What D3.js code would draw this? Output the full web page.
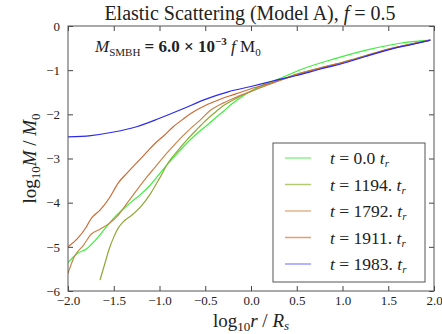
<!DOCTYPE html>
<html>
<head>
<meta charset="utf-8">
<script src="https://cdn.jsdelivr.net/npm/d3@7"></script>
<style>
  body { margin: 0; background: #fff; }
  text { font-family: "Liberation Serif", "DejaVu Serif", serif; fill: #222; }
</style>
</head>
<body>
<div id="chart"></div>
<script>
// log10 r / Rs samples and log10 M / M0 for each snapshot
const labels = ["0.0", "1194.", "1792.", "1911.", "1983."];

const xT0 = [-2, -1.9, -1.8, -1.7, -1.6, -1.5, -1.4, -1.3, -1.2, -1.1, -1.0, -0.9, -0.8, -0.7, -0.6, -0.5, -0.4, -0.3, -0.2, -0.1, 0.0, 0.17, 0.3, 0.54, 0.9, 1.27, 1.63, 1.96];
const yT0 = [-5.36, -5.15, -5.05, -4.85, -4.6, -4.35, -4.15, -3.97, -3.8, -3.6, -3.35, -3.1, -2.87, -2.65, -2.45, -2.28, -2.1, -1.93, -1.75, -1.6, -1.47, -1.3, -1.2, -0.99, -0.75, -0.54, -0.39, -0.32];

const xT1194 = [-1.65, -1.6, -1.55, -1.5, -1.45, -1.4, -1.3, -1.2, -1.1, -1.0, -0.9, -0.8, -0.7, -0.6, -0.5, -0.4, -0.3, -0.2, -0.1, 0.0, 0.2, 0.5, 0.75, 1.0, 1.25, 1.5, 1.75, 1.96];
const yT1194 = [-5.75, -5.4, -5.05, -4.78, -4.57, -4.44, -4.28, -4.08, -3.8, -3.45, -3.08, -2.82, -2.58, -2.36, -2.15, -1.97, -1.8, -1.68, -1.57, -1.48, -1.32, -1.09, -0.95, -0.82, -0.67, -0.52, -0.41, -0.32];

const xT1792 = [-2, -1.93, -1.83, -1.75, -1.65, -1.55, -1.45, -1.35, -1.25, -1.15, -1.05, -0.95, -0.85, -0.75, -0.65, -0.55, -0.45, -0.3, -0.15, 0.0, 0.2, 0.5, 0.75, 1.0, 1.25, 1.5, 1.75, 1.96];
const yT1792 = [-5.6, -5.22, -4.96, -4.72, -4.6, -4.47, -4.28, -4.0, -3.72, -3.45, -3.2, -2.95, -2.72, -2.5, -2.3, -2.12, -1.92, -1.74, -1.6, -1.48, -1.32, -1.1, -0.96, -0.83, -0.68, -0.53, -0.41, -0.32];

const xT1911 = [-2, -1.9, -1.8, -1.75, -1.65, -1.55, -1.45, -1.35, -1.25, -1.15, -1.05, -0.95, -0.85, -0.75, -0.65, -0.5, -0.35, -0.2, 0.0, 0.2, 0.5, 0.75, 1.0, 1.25, 1.5, 1.75, 1.96];
const yT1911 = [-5.0, -4.82, -4.55, -4.37, -4.17, -3.9, -3.55, -3.32, -3.1, -2.88, -2.66, -2.48, -2.28, -2.12, -1.97, -1.8, -1.67, -1.56, -1.42, -1.3, -1.1, -0.96, -0.83, -0.68, -0.53, -0.41, -0.32];

const xT1983 = [-2, -1.75, -1.5, -1.25, -1.0, -0.75, -0.5, -0.25, 0.0, 0.25, 0.5, 0.75, 1.0, 1.25, 1.5, 1.75, 1.96];
const yT1983 = [-2.51, -2.48, -2.4, -2.28, -2.09, -1.88, -1.66, -1.49, -1.37, -1.24, -1.12, -0.98, -0.85, -0.69, -0.54, -0.42, -0.32];

const xTicks = [-2.0, -1.5, -1.0, -0.5, 0.0, 0.5, 1.0, 1.5, 2.0];
const yTicks = [0, -1, -2, -3, -4, -5, -6];

const series = [
  { x: xT0, y: yT0, color: "#3cf03c", legend: "#8df28d" },
  { x: xT1194, y: yT1194, color: "#8fa838", legend: "#b2cb6e" },
  { x: xT1792, y: yT1792, color: "#c8844c", legend: "#e6b38c" },
  { x: xT1911, y: yT1911, color: "#cc6a34", legend: "#ec9a70" },
  { x: xT1983, y: yT1983, color: "#2a2af0", legend: "#9a9aff" }
];

const W = 442, H = 334;
const m = { left: 68, right: 8, top: 26, bottom: 43 };
const iw = W - m.left - m.right, ih = H - m.top - m.bottom;

const svg = d3.select("#chart").append("svg")
  .attr("width", W).attr("height", H);

const x = d3.scaleLinear().domain([-2, 2]).range([0, iw]);
const y = d3.scaleLinear().domain([-6, 0]).range([ih, 0]);

const g = svg.append("g").attr("transform", `translate(${m.left},${m.top})`);

const fmtX = d => d3.format(".1f")(d).replace("-", "\u2212");
const fmtY = d => d3.format("d")(d).replace("-", "\u2212");

// axes with inward ticks on all sides
const styleAxis = sel => {
  sel.attr("font-family", null).attr("font-size", null);
  sel.select(".domain").remove();
  sel.selectAll("line").attr("stroke", "#444");
  sel.selectAll("text")
    .style("font-family", "'Liberation Serif', serif")
    .style("font-size", "13px").attr("fill", "#222");
};

g.append("g").attr("transform", `translate(0,${ih})`)
  .call(d3.axisBottom(x).tickValues(xTicks).tickFormat(fmtX).tickSizeInner(-5).tickSizeOuter(0).tickPadding(5))
  .call(styleAxis);
g.append("g")
  .call(d3.axisTop(x).tickValues(xTicks).tickFormat("").tickSizeInner(-5).tickSizeOuter(0))
  .call(styleAxis);
g.append("g")
  .call(d3.axisLeft(y).tickValues(yTicks).tickFormat(fmtY).tickSizeInner(-5).tickSizeOuter(0).tickPadding(8))
  .call(styleAxis);
g.append("g").attr("transform", `translate(${iw},0)`)
  .call(d3.axisRight(y).tickValues(yTicks).tickFormat("").tickSizeInner(-5).tickSizeOuter(0))
  .call(styleAxis);

g.append("clipPath").attr("id", "clip")
  .append("rect").attr("width", iw).attr("height", ih);

const line = d3.line()
  .x(d => x(d[0]))
  .y(d => y(d[1]))
  .curve(d3.curveMonotoneX);

const lines = g.append("g").attr("clip-path", "url(#clip)");
series.forEach(s => {
  lines.append("path")
    .datum(d3.zip(s.x, s.y))
    .attr("fill", "none")
    .attr("stroke", s.color)
    .attr("stroke-width", 1.2)
    .attr("d", line);
});

g.append("rect")
  .attr("width", iw).attr("height", ih)
  .attr("fill", "none").attr("stroke", "#555").attr("stroke-width", 1);

// title
const title = svg.append("text")
  .attr("x", 250).attr("y", 20)
  .attr("text-anchor", "middle")
  .style("font-size", "20px");
title.append("tspan").text("Elastic Scattering (Model A), ");
title.append("tspan").style("font-style", "italic").text("f");
title.append("tspan").text(" = 0.5");

// mass annotation
const ann = svg.append("text")
  .attr("x", 95).attr("y", 52)
  .style("font-size", "17px");
ann.append("tspan").style("font-style", "italic").text("M");
ann.append("tspan").attr("dy", 4).style("font-size", "11px").text("SMBH");
ann.append("tspan").attr("dy", -4).style("font-weight", "bold").text(" = 6.0 \u00d7 10");
ann.append("tspan").attr("dy", -7).style("font-size", "11px").style("font-weight", "bold").text("\u22123");
ann.append("tspan").attr("dy", 7).style("font-style", "italic").text(" f");
ann.append("tspan").text(" M");
ann.append("tspan").attr("dy", 4).style("font-size", "11px").text("0");

// axis labels
const xl = svg.append("text")
  .attr("x", m.left + iw / 2).attr("y", 327)
  .attr("text-anchor", "middle")
  .style("font-size", "19px");
xl.append("tspan").text("log");
xl.append("tspan").attr("dy", 4).style("font-size", "13px").text("10");
xl.append("tspan").attr("dy", -4).style("font-style", "italic").text("r");
xl.append("tspan").text(" / ");
xl.append("tspan").style("font-style", "italic").text("R");
xl.append("tspan").attr("dy", 3).style("font-size", "13px").style("font-style", "italic").text("s");

const yl = svg.append("text")
  .attr("transform", `translate(36,${m.top + ih / 2}) rotate(-90)`)
  .attr("text-anchor", "middle")
  .style("font-size", "19px");
yl.append("tspan").text("log");
yl.append("tspan").attr("dy", 4).style("font-size", "13px").text("10");
yl.append("tspan").attr("dy", -4).style("font-style", "italic").text("M");
yl.append("tspan").text(" / ");
yl.append("tspan").style("font-style", "italic").text("M");
yl.append("tspan").attr("dy", 4).style("font-size", "13px").text("0");

// legend
const lg = svg.append("g").attr("transform", "translate(273,143)");
lg.append("rect")
  .attr("width", 152).attr("height", 139)
  .attr("fill", "#fff").attr("stroke", "#555").attr("stroke-width", 1);
series.forEach((s, i) => {
  const yy = 15 + i * 26.5;
  lg.append("line")
    .attr("x1", 12).attr("x2", 38).attr("y1", yy).attr("y2", yy)
    .attr("stroke", s.legend).attr("stroke-width", 1.5);
  const t = lg.append("text")
    .attr("x", 57).attr("y", yy + 6)
    .style("font-size", "17.5px");
  t.append("tspan").style("font-style", "italic").text("t");
  t.append("tspan").text(" = " + labels[i] + " ");
  t.append("tspan").style("font-style", "italic").text("t");
  t.append("tspan").attr("dy", 3).style("font-size", "11px").style("font-style", "italic").text("r");
});
</script>
</body>
</html>
